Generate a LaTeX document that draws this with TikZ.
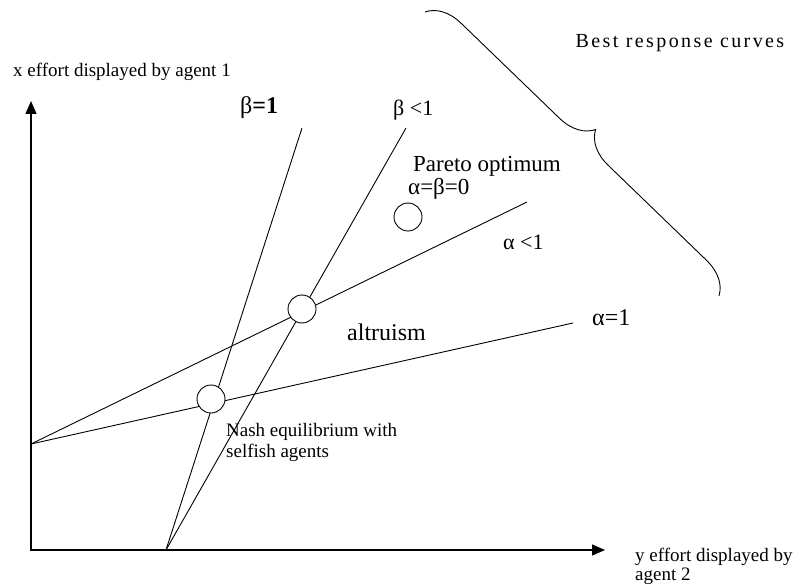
\documentclass[tikz,border=0pt]{standalone}
\usepackage{fontspec}
\setmainfont{Liberation Serif}
\newfontfamily\spacedfont[LetterSpace=12]{Liberation Serif}
\usetikzlibrary{arrows.meta,decorations.pathreplacing}

\begin{document}
\begin{tikzpicture}[x=1pt,y=-1pt,
  ax/.style={{Triangle[length=13pt,width=11pt]}-{Triangle[length=13pt,width=11pt]},line width=1.3pt},
  ln/.style={line width=0.9pt},
  pt/.style={circle,draw,fill=white,line width=0.9pt,minimum size=28pt,inner sep=0pt},
  lbl/.style={inner sep=0pt,anchor=west,font=\fontsize{#1}{#1}\selectfont}]

  \useasboundingbox (0,0) rectangle (797,585);

  \coordinate (o)    at (31,550);
  \coordinate (ytip) at (31,101);
  \coordinate (xtip) at (605,550);
  \coordinate (a0)   at (31,444);
  \coordinate (b0)   at (166,550);
  \coordinate (a1)   at (527,202);
  \coordinate (a2)   at (573,323);
  \coordinate (b1)   at (302,128);
  \coordinate (b2)   at (406,128);
  \coordinate (br1)  at (425,12);
  \coordinate (br2)  at (719,296);

  % axes and best response lines
  \draw[ax] (ytip) -- (o) -- (xtip);
  \draw[ln] (a0) -- (a1);
  \draw[ln] (a0) -- (a2);
  \draw[ln] (b0) -- (b1);
  \draw[ln] (b0) -- (b2);

  \node[pt] (nash)   at (211,399) {};
  \node[pt] (altr)   at (302,309) {};
  \node[pt] (pareto) at (408,217) {};

  \draw[ln,decorate,decoration={brace,amplitude=34pt}] (br1) -- (br2);

  % labels
  \node[lbl=19] (xlab) at (13,72) {x effort displayed by agent 1};
  \node[lbl=19,anchor=north west,align=left,font=\fontsize{19}{19}\selectfont]
    (ylab) at (635,548) {y effort displayed by\\agent 2};
  \node[lbl=20,anchor=center,font=\spacedfont\fontsize{20}{20}\selectfont]
    (best) at (680,43) {Best response curves};
  \node[lbl=24] (beta1) at (240,108) {β\textbf{=1}};
  \node[lbl=22] (betalt) at (393,110) {β <1};
  \node[lbl=23] (paretolab) at (413,166) {Pareto optimum};
  \node[lbl=23] (zero) at (408,189) {α=β=0};
  \node[lbl=22] (alphalt) at (503,242) {α <1};
  \node[lbl=24] (alpha1) at (592,318) {α=1};
  \node[lbl=24] (altrlab) at (347,332) {altruism};
  \node[lbl=19,anchor=north west,align=left,font=\fontsize{19}{21}\selectfont]
    (nashlab) at (226,423) {Nash equilibrium with\\selfish agents};
\end{tikzpicture}
\end{document}
